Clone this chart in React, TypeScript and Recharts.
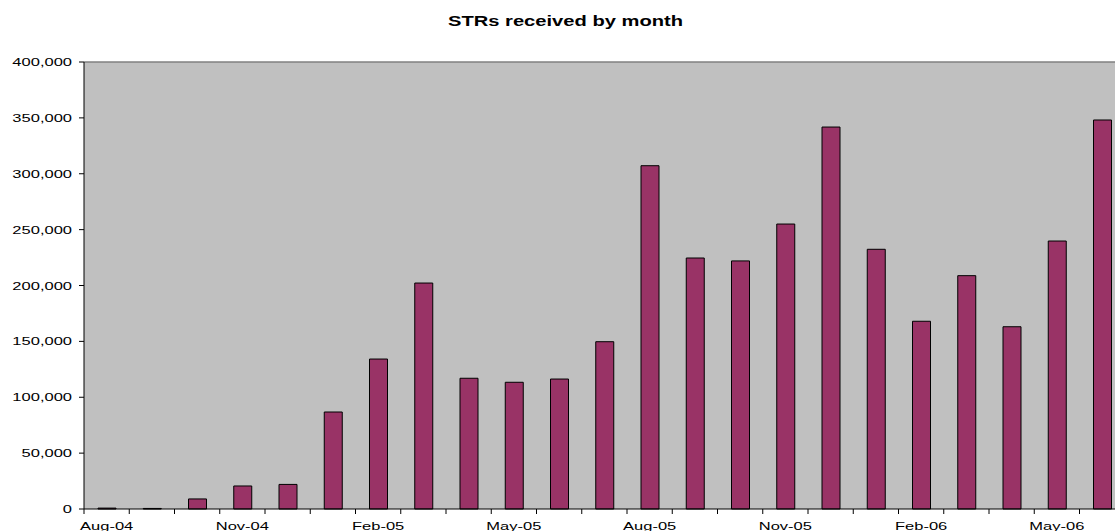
import React from "react";
import { BarChart, Bar, XAxis, YAxis, CartesianGrid, ReferenceLine } from "recharts";

const months = [
  "Aug-04", "Sep-04", "Oct-04", "Nov-04", "Dec-04", "Jan-05", "Feb-05", "Mar-05",
  "Apr-05", "May-05", "Jun-05", "Jul-05", "Aug-05", "Sep-05", "Oct-05", "Nov-05",
  "Dec-05", "Jan-06", "Feb-06", "Mar-06", "Apr-06", "May-06", "Jun-06",
];

const strs = [
  800, 500, 9000, 20600, 22000, 86800, 134200, 202200,
  117000, 113400, 116300, 149700, 307200, 224600, 222000, 255000,
  341800, 232400, 168000, 208800, 163100, 239800, 348100,
];

const yTicks = [0, 50000, 100000, 150000, 200000, 250000, 300000, 350000, 400000];

// every 3rd month gets a label
const shownLabels = ["Aug-04", "Nov-04", "Feb-05", "May-05", "Aug-05", "Nov-05", "Feb-06", "May-06"];

const data = months.map((m, i) => ({ month: m, value: strs[i] }));

const FONT = "'Liberation Sans', Arial, sans-serif";
const STRETCH = 1.5; // original picture is stretched sideways

const YTick = (props: any) => {
  const { x, y, payload } = props;
  return (
    <text
      transform={`translate(${x},${y + 4}) scale(${STRETCH},1)`}
      textAnchor="end"
      fontSize={11}
      fontFamily={FONT}
      fill="#000"
    >
      {payload.value.toLocaleString("en-US")}
    </text>
  );
};

// tick marks sit between categories, labels on the category centre
const XTick = (props: any) => {
  const { x, y, payload, width, visibleTicksCount, index } = props;
  const half = width / visibleTicksCount / 2;
  const axisY = y;
  return (
    <g>
      <line x1={x - half} x2={x - half} y1={axisY} y2={axisY + 5} stroke="#000" />
      {index === visibleTicksCount - 1 && (
        <line x1={x + half} x2={x + half} y1={axisY} y2={axisY + 5} stroke="#000" />
      )}
      {shownLabels.includes(payload.value) && (
        <text
          transform={`translate(${x},${axisY + 21}) scale(${STRETCH},1)`}
          textAnchor="middle"
          fontSize={11}
          fontFamily={FONT}
          fill="#000"
        >
          {payload.value}
        </text>
      )}
    </g>
  );
};

export default function App() {
  return (
    <div style={{ position: "absolute", left: 0, top: 0, width: 1115, height: 531, overflow: "hidden", background: "#fff" }}>
      <svg width={1115} height={40} style={{ position: "absolute", left: 0, top: 0 }}>
        <text
          transform={`translate(565.5,26) scale(1.44,1)`}
          textAnchor="middle"
          fontSize={14}
          fontWeight="bold"
          fontFamily={FONT}
          fill="#000"
        >
          STRs received by month
        </text>
      </svg>
      <div style={{ position: "absolute", left: 0, top: 0 }}>
        <BarChart
          width={1140}
          height={531}
          data={data}
          margin={{ top: 62, right: 15.25, bottom: 0, left: 0 }}
        >
          <CartesianGrid horizontal={false} vertical={false} fill="#C0C0C0" />
          <XAxis
            dataKey="month"
            height={22}
            interval={0}
            tickSize={0}
            tickMargin={0}
            tickLine={false}
            axisLine={{ stroke: "#000" }}
            tick={<XTick />}
          />
          <YAxis
            width={84}
            domain={[0, 400000]}
            ticks={yTicks}
            interval={0}
            tickSize={5}
            tickMargin={7}
            axisLine={{ stroke: "#000" }}
            tickLine={{ stroke: "#000" }}
            tick={<YTick />}
          />
          <ReferenceLine y={400000} stroke="#808080" strokeWidth={1.5} />
          <Bar
            dataKey="value"
            fill="#993366"
            stroke="#000"
            strokeWidth={1}
            barSize={18}
            isAnimationActive={false}
          />
        </BarChart>
      </div>
    </div>
  );
}
